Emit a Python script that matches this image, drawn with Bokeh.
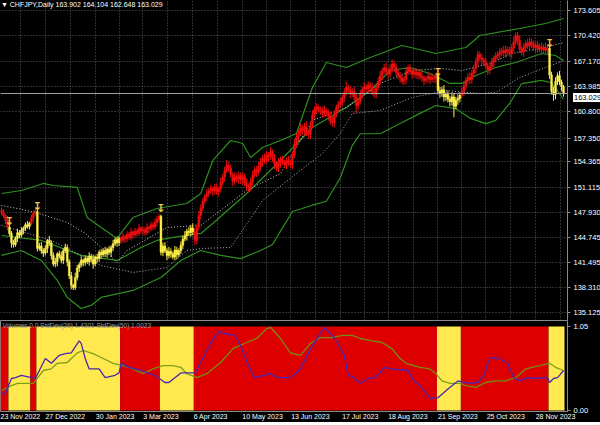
from bokeh.plotting import figure
from bokeh.layouts import column
from bokeh.models import Range1d, FixedTicker, PrintfTickFormatter, Label, Span, ColumnDataSource, Div
from bokeh.core.properties import value
from bokeh.embed import file_html
from bokeh.resources import INLINE

# ---------------- data ----------------
closes = [
    147.9, 147.5, 146.9, 146.0, 145.2, 144.0, 143.8, 144.6, 145.3, 145.0,
    145.6, 145.9, 146.3, 146.1, 146.5, 147.2, 147.8, 148.0, 143.3, 143.6,
    143.0, 142.7, 143.3, 144.3, 144.0, 142.4, 141.3, 141.6, 142.6, 142.3,
    141.8, 143.0, 143.4, 141.6, 139.8, 138.6, 138.3, 139.6, 140.8, 141.2,
    141.8, 141.5, 142.0, 141.6, 142.3, 141.9, 141.3, 142.2, 142.0, 142.8,
    142.5, 143.0, 142.6, 143.2, 142.8, 143.4, 143.9, 144.4, 144.0, 144.6,
    144.3, 144.8, 144.5, 145.1, 144.7, 145.4, 145.0, 145.5, 145.2, 145.9,
    145.5, 145.7, 145.3, 146.0, 145.8, 146.3, 146.0, 146.6, 147.0, 147.4,
    142.8, 143.6, 143.0, 142.4, 142.9, 142.6, 142.2, 143.1, 142.5, 143.0,
    143.7, 144.5, 144.9, 145.5, 145.3, 145.9, 145.4, 144.3, 146.0, 147.5,
    148.4, 149.3, 149.9, 150.3, 150.6, 150.9, 150.6, 151.1, 150.5, 150.9,
    151.7, 152.4, 153.2, 153.9, 153.5, 152.7, 151.9, 152.4, 152.1, 152.6,
    152.0, 152.5, 151.6, 151.2, 151.0, 151.8, 152.6, 153.3, 153.0, 153.7,
    154.3, 154.8, 154.5, 155.2, 155.0, 155.6, 154.8, 154.0, 153.5, 154.2,
    154.6, 154.3, 154.0, 154.5, 154.2, 154.0, 155.2, 156.6, 157.5, 158.0,
    158.6, 158.3, 158.8, 158.0, 157.8, 159.0, 160.3, 161.0, 161.3, 161.0,
    160.8, 160.5, 160.9, 160.6, 160.2, 159.5, 159.3, 160.4, 161.2, 161.6,
    161.9, 162.5, 163.2, 163.8, 163.5, 163.0, 163.3, 162.6, 161.5, 162.0,
    163.0, 163.5, 163.9, 163.6, 164.1, 163.8, 163.2, 163.0, 163.8, 164.6,
    165.3, 165.9, 166.3, 165.8, 165.5, 166.2, 166.8, 166.4, 165.7, 165.3,
    165.0, 164.6, 164.9, 165.8, 166.3, 165.9, 165.5, 165.8, 165.4, 165.7,
    165.2, 165.0, 164.7, 164.9, 165.2, 164.8, 165.1, 164.9, 165.3, 163.4,
    163.0, 163.5, 162.6, 162.9, 162.3, 162.0, 162.6, 161.4, 162.2, 162.4,
    162.8, 163.3, 164.0, 164.7, 165.1, 164.8, 165.6, 166.2, 167.0, 168.0,
    167.6, 167.3, 167.0, 166.5, 166.0, 166.4, 167.0, 167.5, 167.8, 168.0,
    168.3, 168.5, 168.2, 168.6, 168.4, 168.1, 168.8, 169.6, 170.4, 169.8,
    168.7, 168.3, 168.9, 169.4, 169.1, 169.6, 169.3, 168.9, 169.2, 168.7,
    169.0, 168.6, 168.9, 168.5, 168.8, 165.4, 163.3, 162.9, 164.6, 165.3,
    164.5, 163.902, 163.029,
]
first_open = 148.2

# wick lengths above the body top / below the body bottom (yen)
upper_wick = [
    .3, .4, .2, .5, .6, .3, .4, .2, .5, .3,
    .4, .2, .3, .5, .2, .4, .3, .3, .3, .4,
    .5, .3, .4, .2, .6, .3, .4, .5, .2, .4,
    .6, .3, .5, .4, .3, .5, .2, .6, .4, .3,
    .5, .2, .4, .3, .5, .3, .6, .2, .4, .3,
    .4, .3, .5, .2, .4, .3, .5, .3, .4, .2,
    .3, .5, .2, .4, .3, .5, .2, .4, .3, .5,
    .2, .4, .3, .5, .2, .4, .3, .5, .4, .3,
    .2, .4, .5, .3, .6, .4, .3, .5, .4, .3,
    .5, .4, .6, .3, .5, .4, .6, .5, .4, .6,
    .5, .4, .3, .6, .4, .5, .3, .4, .5, .3,
    .6, .4, .5, .7, .4, .5, .3, .6, .4, .5,
    .4, .5, .3, .6, .4, .5, .6, .4, .5, .6,
    .5, .4, .6, .5, .4, .6, .3, .5, .4, .6,
    .4, .5, .3, .4, .6, .4, .5, .6, .5, .4,
    .6, .4, .5, .7, .4, .5, .6, .4, .5, .3,
    .4, .5, .6, .3, .4, .5, .6, .5, .4, .5,
    .6, .4, .5, .7, .4, .5, .4, .6, .5, .4,
    .5, .4, .6, .3, .5, .4, .6, .5, .4, .5,
    .6, .4, .5, .7, .4, .5, .6, .4, .5, .4,
    .5, .4, .3, .6, .4, .5, .3, .4, .5, .3,
    .4, .5, .3, .4, .6, .4, .5, .3, .4, .3,
    .5, .4, .6, .3, .5, .4, .6, .5, .4, .5,
    .4, .5, .6, .4, .5, .6, .4, .5, .6, .5,
    .4, .5, .3, .6, .4, .5, .6, .4, .5, .4,
    .5, .4, .6, .5, .4, .6, .5, .6, .4, .5,
    .6, .4, .5, .4, .6, .5, .4, .5, .4, .5,
    .4, .5, .4, .6, .4, .3, .4, .6, .5, .4,
    .6, .3, .202,
]
lower_wick = [
    .4, .3, .5, .4, .3, .6, .4, .3, .5, .4,
    .3, .5, .4, .3, .4, .3, .5, .4, .4, .3,
    .4, .5, .3, .6, .4, .5, .3, .4, .6, .3,
    .4, .5, .3, .6, .4, .5, .3, .3, .4, .5,
    .3, .5, .4, .3, .5, .4, .6, .3, .5, .4,
    .5, .3, .4, .5, .3, .6, .4, .3, .5, .4,
    .4, .3, .5, .4, .3, .4, .5, .3, .4, .3,
    .3, .5, .4, .3, .5, .3, .4, .3, .5, .4,
    .4, .5, .3, .6, .4, .5, .3, .4, .6, .3,
    .4, .5, .3, .6, .4, .5, .4, .6, .5, .4,
    .5, .3, .4, .6, .5, .4, .6, .5, .4, .6,
    .5, .4, .6, .3, .5, .4, .7, .5, .4, .6,
    .5, .6, .4, .5, .6, .4, .5, .3, .6, .4,
    .5, .6, .4, .5, .7, .4, .5, .6, .4, .5,
    .6, .4, .5, .6, .4, .5, .6, .4, .5, .6,
    .4, .5, .6, .4, .5, .6, .4, .5, .6, .4,
    .5, .6, .4, .5, .6, .4, .5, .6, .4, .5,
    .4, .5, .6, .4, .5, .6, .4, .5, 1.0, .5,
    .4, .6, .5, .4, .5, .6, .4, .5, .6, .4,
    .5, .6, .4, .5, .6, .4, .5, .6, .4, .5,
    .6, .4, .5, .6, .4, .5, .6, .4, .5, .6,
    .4, .5, .6, .4, .5, .6, .4, .5, .6, .4,
    .5, .4, .6, .5, .4, .6, .5, 1.4, .4, .6,
    .5, .4, .6, .5, .4, .6, .5, .4, .6, .5,
    .4, .6, .5, .4, .6, .5, .4, .6, .5, .4,
    .6, .5, .4, .6, .5, .4, .6, .5, .4, .6,
    .5, .4, .6, .5, .4, .6, .5, .4, .6, .5,
    .4, .6, .5, .4, .6, .5, .4, .8, .6, .5,
    .4, .6, .381,
]

# colour regimes (bar index where each run starts)
regime_start = [0, 4, 15, 18, 60, 80, 97, 219, 231, 275]
regime_kind = ["up", "dn", "up", "dn", "up", "dn", "up", "dn", "up", "dn"]

# signal arrows
arrow_bar = [4, 18, 80, 219, 275]
arrow_price = [146.7, 148.6, 148.4, 165.7, 169.4]

# bands (bar index, price)
up_bar = [0, 10, 21, 26, 38, 43, 50, 58, 66, 78, 93, 100, 106, 115, 121, 125, 131, 140, 148, 156, 163, 173, 185, 201, 218, 233, 240, 260, 273, 282]
up_val = [150.29, 150.67, 151.57, 151.31, 151.06, 147.24, 145.96, 144.56, 147.24, 148.38, 149.02, 150.29, 154.50, 157.04, 156.66, 154.88, 156.15, 157.04, 157.94, 163.80, 166.98, 166.34, 167.62, 169.15, 168.13, 168.89, 170.42, 171.31, 171.95, 172.59]
lo_bar = [0, 10, 20, 28, 33, 40, 45, 50, 66, 80, 90, 100, 110, 120, 130, 136, 140, 146, 156, 163, 170, 176, 180, 190, 200, 210, 218, 228, 235, 243, 248, 255, 261, 271, 276, 282]
lo_val = [142.40, 143.03, 141.76, 139.21, 137.05, 135.64, 136.03, 137.05, 137.94, 139.59, 141.76, 143.03, 142.40, 142.00, 143.03, 143.80, 145.5, 148.0, 148.8, 149.3, 152.3, 156.4, 157.9, 157.9, 159.2, 160.5, 161.5, 161.1, 159.9, 159.2, 159.6, 161.76, 164.3, 164.7, 164.4, 162.3]
mid_bar = [0, 20, 40, 58, 70, 78, 86, 100, 106, 123, 140, 156, 173, 185, 195, 205, 215, 225, 231, 238, 248, 258, 271, 278, 282]
mid_val = [144.94, 144.31, 142.40, 141.76, 143.41, 144.31, 144.69, 145.20, 146.47, 150.29, 154.50, 158.70, 161.25, 163.41, 165.96, 166.34, 165.58, 164.31, 164.31, 165.32, 166.34, 166.98, 168.13, 167.87, 167.24]
ma1_bar = [0, 8, 17, 25, 33, 42, 50, 58, 63, 83, 100, 123, 140, 156, 173, 190, 206, 220, 231, 245, 256, 273, 282]
ma1_val = [148.76, 148.38, 147.87, 147.24, 146.60, 145.20, 143.41, 141.50, 143.03, 145.96, 146.22, 150.67, 152.84, 159.59, 161.25, 164.31, 165.96, 166.22, 165.96, 166.85, 168.13, 168.89, 169.53]
ma2_bar = [0, 25, 50, 66, 83, 93, 100, 115, 131, 148, 161, 170, 176, 190, 206, 223, 240, 248, 260, 273, 282]
ma2_val = [146.22, 144.31, 141.12, 140.23, 140.87, 143.03, 143.29, 143.41, 149.40, 152.84, 155.39, 157.94, 160.48, 160.87, 162.52, 163.41, 163.03, 163.16, 165.07, 166.34, 167.24]

# lower window lines (bar index, value)
sd26_bar = [0, 2, 5, 7, 10, 15, 17, 22, 25, 29, 32, 35, 39, 40, 42, 44, 49, 52, 57, 59, 60, 64, 70, 77, 82, 84, 87, 90, 97, 100, 105, 109, 112, 117, 120, 124, 127, 132, 134, 139, 145, 150, 155, 162, 167, 172, 174, 177, 180, 184, 187, 190, 192, 195, 204, 207, 210, 214, 215, 219, 224, 229, 234, 239, 242, 245, 249, 254, 257, 260, 264, 267, 274, 275, 277, 279, 280, 282]
sd26_val = [0.21, 0.22, 0.40, 0.41, 0.44, 0.41, 0.40, 0.65, 0.59, 0.69, 0.71, 0.72, 0.87, 0.84, 0.65, 0.52, 0.52, 0.41, 0.44, 0.47, 0.59, 0.54, 0.50, 0.44, 0.35, 0.35, 0.41, 0.47, 0.47, 0.60, 0.85, 0.99, 0.96, 0.94, 0.81, 0.56, 0.41, 0.44, 0.46, 0.41, 0.41, 0.52, 0.77, 1.04, 0.91, 0.69, 0.44, 0.41, 0.34, 0.40, 0.41, 0.47, 0.54, 0.52, 0.50, 0.37, 0.31, 0.19, 0.15, 0.16, 0.27, 0.37, 0.34, 0.35, 0.44, 0.65, 0.66, 0.59, 0.41, 0.37, 0.41, 0.40, 0.41, 0.35, 0.40, 0.41, 0.44, 0.50]
sd50_bar = [0, 5, 8, 16, 21, 25, 28, 33, 38, 41, 46, 51, 56, 61, 66, 71, 76, 81, 86, 90, 93, 98, 103, 110, 116, 123, 128, 133, 135, 140, 145, 150, 155, 160, 166, 171, 176, 180, 186, 191, 196, 200, 203, 210, 215, 218, 221, 225, 230, 233, 238, 243, 248, 253, 258, 263, 270, 275, 278, 282]
sd50_val = [0.25, 0.31, 0.34, 0.34, 0.50, 0.52, 0.59, 0.60, 0.72, 0.75, 0.71, 0.65, 0.59, 0.56, 0.52, 0.46, 0.52, 0.56, 0.56, 0.54, 0.46, 0.41, 0.46, 0.60, 0.77, 0.85, 0.90, 1.02, 1.04, 0.90, 0.72, 0.69, 0.84, 0.91, 0.91, 0.94, 0.94, 0.90, 0.87, 0.85, 0.77, 0.65, 0.59, 0.54, 0.52, 0.46, 0.37, 0.34, 0.34, 0.31, 0.29, 0.35, 0.37, 0.37, 0.41, 0.52, 0.56, 0.59, 0.54, 0.50]
hist_level = 1.05

price_ticks = [173.605, 170.420, 167.170, 163.985, 160.800, 157.350, 154.365, 151.115, 147.930, 144.745, 141.495, 138.310, 135.125]
date_bars = [-3, 22, 47, 71, 96, 121, 145, 170, 194, 219, 243, 268]
date_labels = ["23 Nov 2022", "27 Dec 2022", "30 Jan 2023", "3 Mar 2023", "6 Apr 2023", "10 May 2023",
               "13 Jun 2023", "17 Jul 2023", "18 Aug 2023", "21 Sep 2023", "25 Oct 2023", "28 Nov 2023"]
last_price = 163.029
header = "\u25bc CHFJPY,Daily  163.902 164.104 162.648 163.029"
sub_title = "Volumes 0.0   StdDev(26) 1.4301   StdDev(50) 1.0023"

# ---------------- styling ----------------
RED = "#f01010"
YEL = "#fff04a"
FILL_RED = "#de0000"
FILL_YEL = "#ffe94e"
GRID = "#5c5c5c"
FONT = "Liberation Sans"

n = len(closes)
idx = list(range(n))
opens = [first_open] + closes[:-1]
highs = [max(o, c) + w for o, c, w in zip(opens, closes, upper_wick)]
lows = [min(o, c) - w for o, c, w in zip(opens, closes, lower_wick)]
kinds = []
for i in idx:
    k = None
    for s, kd in zip(regime_start, regime_kind):
        if i >= s:
            k = kd
    kinds.append(k)
ccol = [RED if k == "up" else YEL for k in kinds]

run_left = [s - 0.5 for s in regime_start]
run_right = [s - 0.5 for s in regime_start[1:]] + [n - 0.5]
run_col = [FILL_RED if k == "up" else FILL_YEL for k in regime_kind]

grid_bars = []
for a, b in zip(date_bars, date_bars[1:] + [date_bars[-1] + 24.5]):
    grid_bars += [a, (a + b) / 2]

XR = Range1d(-0.5, 284.0)
FW = 567
MAIN_H = 320
YR = Range1d(134.11, 174.88)

main = figure(frame_width=FW, frame_height=MAIN_H, x_range=XR, y_range=YR,
              y_axis_location="right", output_backend="svg", toolbar_location=None,
              background_fill_color="black", border_fill_color="black",
              min_border_left=0, min_border_top=0, min_border_bottom=0, min_border_right=0)
main.outline_line_color = None
main.xaxis.visible = False
ya = main.yaxis[0]
ya.ticker = FixedTicker(ticks=price_ticks)
ya.formatter = PrintfTickFormatter(format="%.3f")
ya.major_label_text_color = "white"
ya.major_label_text_font = FONT
ya.major_label_text_font_size = "7.5px"
ya.major_label_standoff = 3
ya.axis_line_color = "#8a8a8a"
ya.major_tick_line_color = "#8a8a8a"
ya.major_tick_out = 3
ya.major_tick_in = 0
ya.minor_tick_line_color = None
main.ygrid.grid_line_color = GRID
main.ygrid.grid_line_dash = "1 2"
main.xgrid.ticker = FixedTicker(ticks=grid_bars)
main.xgrid.grid_line_color = GRID
main.xgrid.grid_line_dash = "1 2"

main.add_layout(Span(location=last_price, dimension="width", line_color="#a0a0a0", line_width=1))

# bands and averages
main.line(up_bar, up_val, line_color="#2f8f1f", line_width=1.2)
main.line(lo_bar, lo_val, line_color="#2f8f1f", line_width=1.2)
main.line(mid_bar, mid_val, line_color="#2f8f1f", line_width=1.2)
main.line(ma1_bar, ma1_val, line_color="#d0d0d0", line_width=1, line_dash="1 2")
main.line(ma2_bar, ma2_val, line_color="#b0b0c8", line_width=1, line_dash="1 2")

src = ColumnDataSource(dict(x=idx, o=opens, c=closes, h=highs, l=lows, col=ccol))
main.segment(x0="x", y0="l", x1="x", y1="h", line_color="col", line_width=1, source=src)
main.vbar(x="x", top="o", bottom="c", width=0.9, fill_color="col", line_color="col", line_width=0.5, source=src)

main.text(x=arrow_bar, y=arrow_price, text=["\u21a7"] * len(arrow_bar), text_color="#f5c842",
          text_font=value("DejaVu Sans"), text_font_size="11px", text_align="center", text_baseline="middle",
          text_font_style="bold")

main.add_layout(Label(x=-0.3, y=174.4, text=header, text_color="white", text_font=FONT,
                      text_font_size="7px", text_baseline="middle"))

sub = figure(frame_width=FW, frame_height=91, x_range=XR, y_range=Range1d(-0.0125, 1.125),
             y_axis_location="right", output_backend="svg", toolbar_location=None,
             background_fill_color="black", border_fill_color="black",
             min_border_left=0, min_border_top=0, min_border_bottom=0, min_border_right=0)
sub.outline_line_color = "#8a8a8a"
sub.grid.visible = False
sy = sub.yaxis[0]
sy.ticker = FixedTicker(ticks=[0.0, 1.05])
sy.formatter = PrintfTickFormatter(format="%.2f")
sy.major_label_text_color = "white"
sy.major_label_text_font = FONT
sy.major_label_text_font_size = "7.5px"
sy.major_label_standoff = 3
sy.axis_line_color = "#8a8a8a"
sy.major_tick_line_color = "#8a8a8a"
sy.major_tick_out = 3
sy.major_tick_in = 0
sy.minor_tick_line_color = None

# date axis: labels left-aligned at their bar, so the tick sits at the label centre
centers = [int(round(b + len(t) * 0.88)) for b, t in zip(date_bars, date_labels)]
sx = sub.xaxis[0]
sx.ticker = FixedTicker(ticks=centers)
sx.major_label_overrides = {c: t for c, t in zip(centers, date_labels)}
sx.major_label_text_color = "white"
sx.major_label_text_font = FONT
sx.major_label_text_font_size = "7px"
sx.major_label_standoff = 1
sx.major_tick_out = 0
sx.major_tick_in = 0
sx.major_tick_line_color = None
sx.minor_tick_out = 0
sx.minor_tick_line_color = None
sx.axis_line_color = None

sub.quad(left=run_left, right=run_right, bottom=0, top=hist_level, fill_color=run_col, line_color=None)
sub.line(sd50_bar, sd50_val, line_color="#6a9a12", line_width=1.3, line_alpha=0.9)
sub.line(sd26_bar, sd26_val, line_color="#4a26b0", line_width=1.3)
sub.add_layout(Label(x=0.5, y=1.06, text=sub_title, text_color="#9a9a9a", text_font=FONT,
                     text_font_size="6.5px", text_baseline="middle"))

# current-price tag on the price scale
tag_top = round((YR.end - last_price) / (YR.end - YR.start) * MAIN_H) - 5
price_tag = Div(text="163.029", styles={
    "position": "absolute", "left": f"{FW + 1}px", "top": f"{tag_top}px",
    "background-color": "white", "color": "black", "font-family": FONT,
    "font-size": "7.5px", "line-height": "9px", "padding": "0 1px", "white-space": "nowrap"})

layout = column(main, sub, price_tag, spacing=0,
                styles={"background-color": "black", "position": "relative", "overflow": "visible"})
open("out.html", "w").write(file_html(layout, INLINE))
